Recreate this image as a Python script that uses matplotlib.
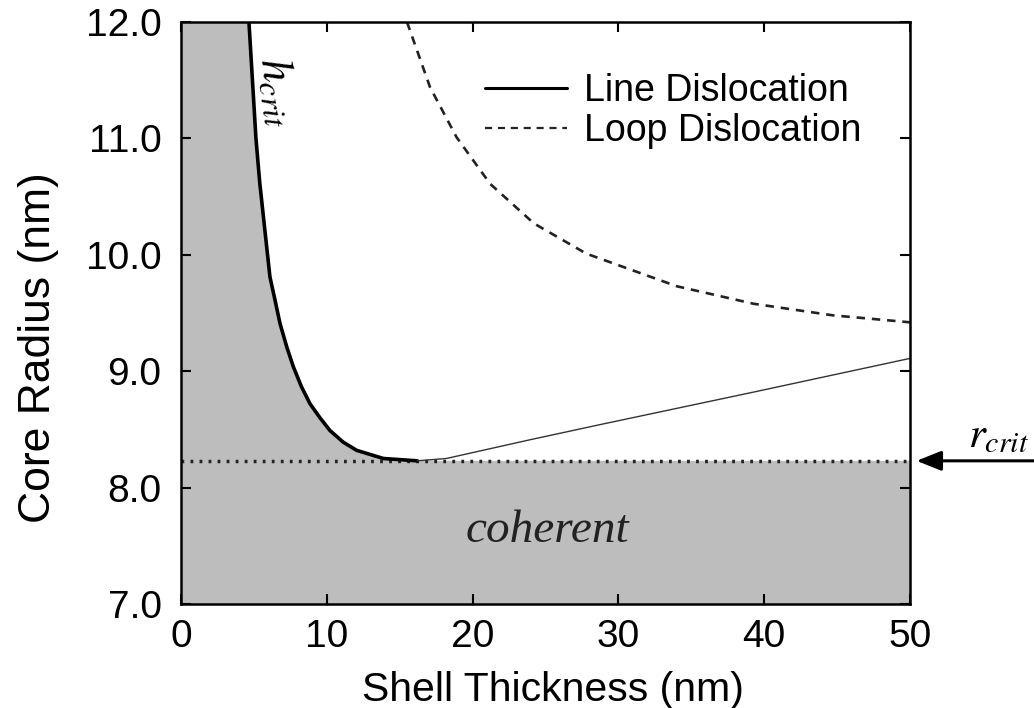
import matplotlib.pyplot as plt

plt.rcParams['font.family'] = ['Liberation Sans', 'DejaVu Sans']
plt.rcParams['mathtext.fontset'] = 'stix'

# critical thickness curve, steep branch
hcrit_x = [4.66, 5.14, 5.40, 5.65, 6.10, 6.45, 6.79, 7.25, 7.70, 8.25, 8.85,
           9.53, 10.22, 11.13, 12.05, 13.88, 16.2]
hcrit_y = [12.0, 11.0, 10.62, 10.33, 9.81, 9.61, 9.41, 9.21, 9.04, 8.87, 8.72,
           8.60, 8.49, 8.39, 8.32, 8.25, 8.23]

# line dislocation, rising branch
rise_x = [16.2, 18.2, 23.9, 28.7, 39.25, 50.0]
rise_y = [8.23, 8.25, 8.41, 8.54, 8.82, 9.11]

# loop dislocation
loop_x = [15.5, 17.08, 18.9, 21.2, 24.2, 27.8, 34.0, 39.25, 44.7, 50.0]
loop_y = [12.0, 11.44, 11.01, 10.61, 10.27, 10.01, 9.73, 9.58, 9.48, 9.42]

r_crit = 8.23
x_min, x_max = 0, 50
y_min, y_max = 7, 12

xticks = [0, 10, 20, 30, 40, 50]
yticks = [7, 8, 9, 10, 11, 12]

fig = plt.figure(figsize=(10.34, 7.08), dpi=100)
ax = fig.add_axes([181 / 1034, 1 - 604 / 708, 729 / 1034, 582 / 708])

# shaded coherent region: below r_crit and left of h_crit
poly_x = [x_min, x_max, x_max] + hcrit_x[::-1] + [x_min]
poly_y = [y_min, y_min, r_crit] + hcrit_y[::-1] + [y_max]
ax.fill(poly_x, poly_y, color='#bdbdbd', lw=0, zorder=1)

ax.plot(hcrit_x, hcrit_y, color='black', lw=2.6, zorder=3,
        solid_capstyle='round', solid_joinstyle='round', label='Line Dislocation')
ax.plot(rise_x, rise_y, color='#333333', lw=1.0, zorder=3)
ax.plot(loop_x, loop_y, color='#222222', lw=1.9, ls=(0, (3.2, 2.6)), zorder=3,
        label='Loop Dislocation')
ax.axhline(r_crit, color='#222222', lw=2.5, ls=(0, (0.8, 1.8)), zorder=2)

ax.set_xlim(x_min, x_max)
ax.set_ylim(y_min, y_max)
ax.set_xticks(xticks)
ax.set_xticklabels([str(t) for t in xticks])
ax.set_yticks(yticks)
ax.set_yticklabels([f'{t:.1f}' for t in yticks])
ax.tick_params(direction='in', length=7, width=1.5, top=True, right=True,
               labelsize=28)
ax.tick_params(axis='x', pad=11)
ax.tick_params(axis='y', pad=14)
for s in ax.spines.values():
    s.set_linewidth(1.8)
    s.set_zorder(5)

ax.set_xlabel('Shell Thickness (nm)', fontsize=29.5, labelpad=8)
ax.xaxis.set_label_coords(0.51, -0.115)
ax.set_ylabel('Core Radius (nm)', fontsize=32)
ax.yaxis.set_label_coords(-0.168, 0.44)

leg = ax.legend(loc='upper left', bbox_to_anchor=(0.417, 0.912), frameon=False,
                fontsize=27, handlelength=2.2, handletextpad=0.45,
                labelspacing=0.1, borderpad=0, borderaxespad=0)
leg.legend_handles[0].set_linewidth(2.2)
leg.legend_handles[1].set_linewidth(1.6)

ax.text(6.6, 11.4, r'$h_{crit}$', fontsize=33, rotation=-82,
        ha='center', va='center', zorder=4)
ax.text(25.1, 7.535, 'coherent', family='Liberation Serif', style='italic',
        fontsize=34, color='#222222', ha='center', va='baseline', zorder=4)

ax.annotate('', xy=(50.45, r_crit), xytext=(60, r_crit),
            arrowprops=dict(arrowstyle='-|>,head_length=1.5,head_width=0.6',
                            color='black', lw=2.2, shrinkA=0, shrinkB=0),
            annotation_clip=False)
ax.text(54.0, 8.35, r'$r_{crit}$', fontsize=31, ha='left', va='baseline',
        clip_on=False)

fig.savefig('out.png', dpi=100, facecolor='white')
